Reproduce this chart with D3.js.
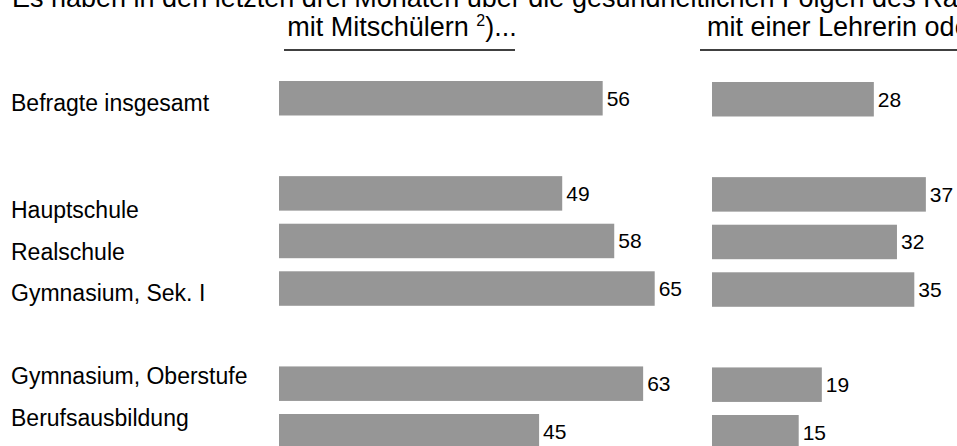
<!DOCTYPE html>
<html>
<head>
<meta charset="utf-8">
<script src="https://cdn.jsdelivr.net/npm/d3@7"></script>
<style>
  html, body { margin: 0; padding: 0; background: #fff; overflow: hidden; }
  svg { display: block; font-family: "Liberation Sans", Arial, sans-serif; }
</style>
</head>
<body>
<svg id="chart" width="957" height="446"></svg>
<script>
// ---- data ----
const title = "Es haben in den letzten drei Monaten über die gesundheitlichen Folgen des Rauchens gesprochen ...";
const panelTitles = ["mit Mitschülern ²)...", "mit einer Lehrerin oder einem Lehrer ²)..."];
const slots = ["total", "gap1", "haupt", "real", "gymSek", "gap2", "gymOber", "beruf"];
const categories = ["Befragte insgesamt", "", "Hauptschule", "Realschule", "Gymnasium, Sek. I", "", "Gymnasium, Oberstufe", "Berufsausbildung"];
const mitSchuelern = [56, null, 49, 58, 65, null, 63, 45];
const mitLehrer = [28, null, 37, 32, 35, null, 19, 15];

const W = 957, H = 446;
const svg = d3.select("#chart");
const FS_VAL = 21, FS_CAT = 23, FS_HEAD = 27;

// scales
const y = d3.scaleBand().domain(slots).range([81, 448.5]).paddingInner(0.275).paddingOuter(0);
const labelY = d3.scaleLinear().domain([0, 2, 7]).range([103, 210, 418]);
const xLeft = d3.scaleLinear().domain([0, 70]).range([279, 279 + 70 * 5.78]);
const xRight = d3.scaleLinear().domain([0, 70]).range([712, 712 + 70 * 5.78]);

// title (clipped at top)
svg.append("text")
  .attr("x", 12).attr("y", 7)
  .attr("font-size", FS_HEAD)
  .attr("fill", "#000")
  .text(title);

// panel titles + rules
const panels = [
  { x: xLeft, values: mitSchuelern, title: panelTitles[0], tx: 402, rule: [284, 515], dy: 0 },
  { x: xRight, values: mitLehrer, title: panelTitles[1], tx: 707, rule: [700, 957], dy: 1, anchorStart: true }
];

panels.forEach(p => {
  const t = svg.append("text")
    .attr("x", p.tx).attr("y", 36)
    .attr("font-size", FS_HEAD)
    .attr("text-anchor", p.anchorStart ? "start" : "middle")
    .attr("fill", "#000");
  const parts = p.title.split("²");
  t.append("tspan").text(parts[0]);
  t.append("tspan").attr("font-size", 16).attr("dy", -10).text("2");
  t.append("tspan").attr("dy", 10).text(parts[1]);

  svg.append("line")
    .attr("x1", p.rule[0]).attr("x2", p.rule[1])
    .attr("y1", 50).attr("y2", 50)
    .attr("stroke", "#000").attr("stroke-width", 1.5);

  const data = slots.map((s, i) => ({ s, v: p.values[i] })).filter(d => d.v != null);
  const g = svg.append("g").attr("transform", `translate(0,${p.dy})`);
  g.selectAll("rect").data(data).join("rect")
    .attr("x", p.x(0))
    .attr("y", d => y(d.s))
    .attr("width", d => p.x(d.v) - p.x(0))
    .attr("height", y.bandwidth())
    .attr("fill", "#969696");
  g.selectAll("text.val").data(data).join("text")
    .attr("class", "val")
    .attr("x", d => p.x(d.v) + 4)
    .attr("y", d => y(d.s) + y.bandwidth() / 2)
    .attr("dominant-baseline", "central")
    .attr("font-size", FS_VAL)
    .attr("fill", "#000")
    .text(d => d.v);
});

// category labels
svg.selectAll("text.cat").data(categories.map((c, i) => ({ c, i })).filter(d => d.c !== ""))
  .join("text")
  .attr("class", "cat")
  .attr("x", 11)
  .attr("y", d => labelY(d.i))
  .attr("dominant-baseline", "central")
  .attr("font-size", FS_CAT)
  .attr("fill", "#000")
  .text(d => d.c);
</script>
</body>
</html>
